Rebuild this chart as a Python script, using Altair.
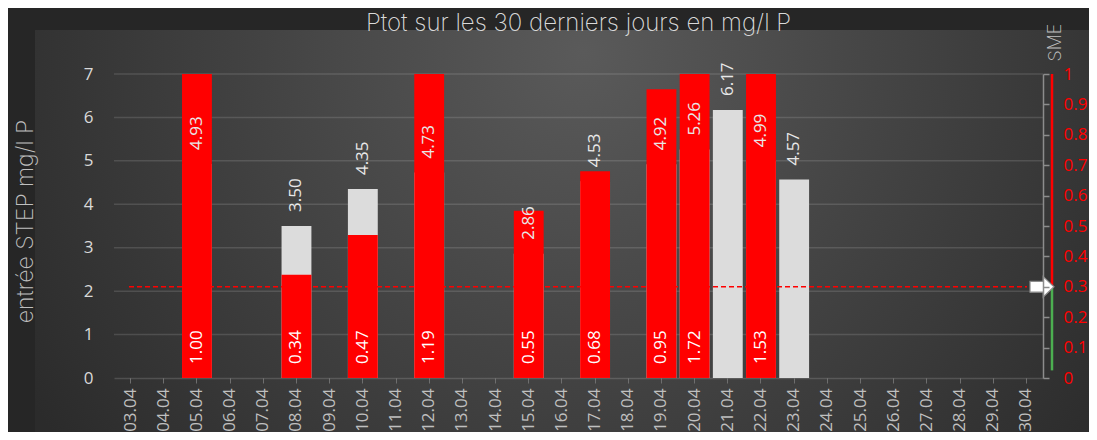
import altair as alt
import pandas as pd

# ---------------- data ----------------
dates = ["03.04", "04.04", "05.04", "06.04", "07.04", "08.04", "09.04", "10.04",
         "11.04", "12.04", "13.04", "14.04", "15.04", "16.04", "17.04", "18.04",
         "19.04", "20.04", "21.04", "22.04", "23.04", "24.04", "25.04", "26.04",
         "27.04", "28.04", "29.04", "30.04"]
entree = [None, None, 4.93, None, None, 3.50, None, 4.35, None, 4.73, None, None,
          2.86, None, 4.53, None, 4.92, 5.26, 6.17, 4.99, 4.57, None, None, None,
          None, None, None, None]
sme = [None, None, 1.00, None, None, 0.34, None, 0.47, None, 1.19, None, None,
       0.55, None, 0.68, None, 0.95, 1.72, None, 1.53, None, None, None, None,
       None, None, None, None]
left_ticks = [0, 1, 2, 3, 4, 5, 6, 7]
right_ticks = [0, 0.1, 0.2, 0.3, 0.4, 0.5, 0.6, 0.7, 0.8, 0.9, 1]
threshold = 0.3
limit_top = 1.0
limit_bottom = 0.025
title_text = "Ptot sur les 30 derniers jours en mg/l P"

df = pd.DataFrame({"date": dates, "entree": entree, "sme": sme})
df["base"] = 0.0
grid_df = pd.DataFrame({"v": left_ticks[1:]})
thr_df = pd.DataFrame({"thr": [threshold]})
seg_df = pd.DataFrame({"hi": [limit_top, threshold], "lo": [threshold, limit_bottom],
                       "part": ["red", "green"]})
one_df = pd.DataFrame({"t": [title_text]})

W, H = 929, 304
NUM_FONT = "Open Sans"
LIGHT_FONT = "Inter, Roboto, Lato"
LIGHT_W = 200

x_enc = alt.X(
    "date:O", sort=dates, title=None,
    scale=alt.Scale(paddingInner=0.1, paddingOuter=0.05),
    axis=alt.Axis(labelAngle=270, labelFontSize=17, labelColor="#bfbfbf", labelFont=NUM_FONT,
                  labelPadding=5, tickSize=5, tickColor="#6e6e6e", tickWidth=1,
                  domainColor="#ffffff", domainOpacity=0.15, domainWidth=1.5, grid=False,
                  zindex=1),
)

left_scale = alt.Scale(domain=[0, 7], nice=False)
left_axis = alt.Axis(values=left_ticks, grid=False, ticks=False, tickSize=0, domain=False,
                     labelFontSize=17, labelColor="#d9d9d9", labelFont=NUM_FONT, labelPadding=21,
                     title="entrée STEP mg/l P", titleFont=LIGHT_FONT, titleFontWeight=LIGHT_W,
                     titleFontSize=23, titleColor="#bfbfbf", titleAngle=270,
                     titleX=-89, titleY=147, titleAlign="center", titleBaseline="middle",
                     zindex=1)

right_scale = alt.Scale(domain=[0, 1], nice=False, clamp=True)
right_axis = alt.Axis(orient="right", values=right_ticks, format="~g", grid=False,
                      labelColor="#ff0000", labelFontSize=17, labelFont=NUM_FONT, labelPadding=14,
                      tickSize=6, tickColor="#8c8c8c", tickWidth=1.5,
                      domainColor="#8c8c8c", domainWidth=1.5,
                      title="SME", titleFont=LIGHT_FONT, titleFontWeight=LIGHT_W, titleFontSize=18,
                      titleColor="#bfbfbf", titleAngle=270, titleX=12, titleY=-32,
                      titleAlign="center", titleBaseline="middle", zindex=1)


def ly(field):
    return alt.Y(field, scale=left_scale, axis=left_axis, title="entrée STEP mg/l P")


def ry(field):
    return alt.Y(field, scale=right_scale, axis=right_axis, title="SME")


# background gradient panel
bg = alt.Chart(one_df).mark_rect(
    fill={"gradient": "radial",
          "stops": [{"offset": 0, "color": "#5a5a5a"}, {"offset": 1, "color": "#2b2b2b"}],
          "x1": 0.52, "y1": 0.33, "r1": 0, "x2": 0.52, "y2": 0.33, "r2": 0.62},
    stroke=None,
).encode(x=alt.value(-79), x2=alt.value(975), y=alt.value(-44), y2=alt.value(358))

title = alt.Chart(one_df).mark_text(
    align="center", baseline="alphabetic", font=LIGHT_FONT, fontWeight=LIGHT_W, fontSize=24,
    color="#d9d9d9").encode(text="t:N", x=alt.value(W / 2), y=alt.value(-43))

grid = alt.Chart(grid_df).mark_rule(color="#ffffff", opacity=0.13, strokeWidth=1.5).encode(
    y=ly("v:Q"), x=alt.value(0), x2=alt.value(W))

gray_bars = alt.Chart(df).mark_bar(color="#dcdcdc").encode(x=x_enc, y=ly("entree:Q"))

left_layer = alt.layer(bg, title, grid, gray_bars)

red_bars = alt.Chart(df).mark_bar(color="#ff0000").encode(x=x_enc, y=ry("sme:Q"))

red_labels = alt.Chart(df).transform_filter("isValid(datum.sme)").mark_text(
    angle=270, align="left", baseline="middle", dx=14, fontSize=17, font=NUM_FONT,
    color="#ffffff").encode(x=x_enc, y=ry("base:Q"), text=alt.Text("sme:Q", format=".2f"))

dashed = alt.Chart(thr_df).mark_rule(color="#ff0000", strokeDash=[5, 3], strokeWidth=1.5).encode(
    y=ry("thr:Q"), x=alt.value(15), x2=alt.value(913))

segs = alt.Chart(seg_df).mark_rule(strokeWidth=2.5).encode(
    y=ry("hi:Q"), y2="lo:Q", x=alt.value(938),
    color=alt.Color("part:N", scale=alt.Scale(domain=["red", "green"],
                                              range=["#ff0000", "#4caf50"]), legend=None))

arrow = alt.Chart(thr_df).mark_point(
    shape="M-1,-0.45L0.1,-0.45L0.1,-0.85L1,0L0.1,0.85L0.1,0.45L-1,0.45Z",
    filled=True, fill="#ffffff", stroke="#8c8c8c", strokeWidth=1.2, size=576, opacity=1,
).encode(y=ry("thr:Q"), x=alt.value(928))

right_layer = alt.layer(red_bars, red_labels, dashed, segs, arrow)

top_labels = alt.Chart(df).transform_filter("isValid(datum.entree)").mark_text(
    angle=270, align="left", baseline="middle", dx=14, fontSize=17, font=NUM_FONT,
    color="#e8e8e8").encode(
    x=x_enc,
    y=alt.Y("entree:Q", scale=alt.Scale(domain=[0, 7], nice=False), axis=None),
    text=alt.Text("entree:Q", format=".2f"))

chart = alt.layer(left_layer, right_layer, top_labels).resolve_scale(
    y="independent", color="independent"
).properties(
    width=W, height=H,
    autosize=alt.AutoSizeParams(type="none"),
    padding={"left": 106, "top": 66, "right": 46, "bottom": 54},
).configure(background="#262626").configure_view(stroke=None)

chart.save("out.html", embed_options={"renderer": "svg", "actions": False})
